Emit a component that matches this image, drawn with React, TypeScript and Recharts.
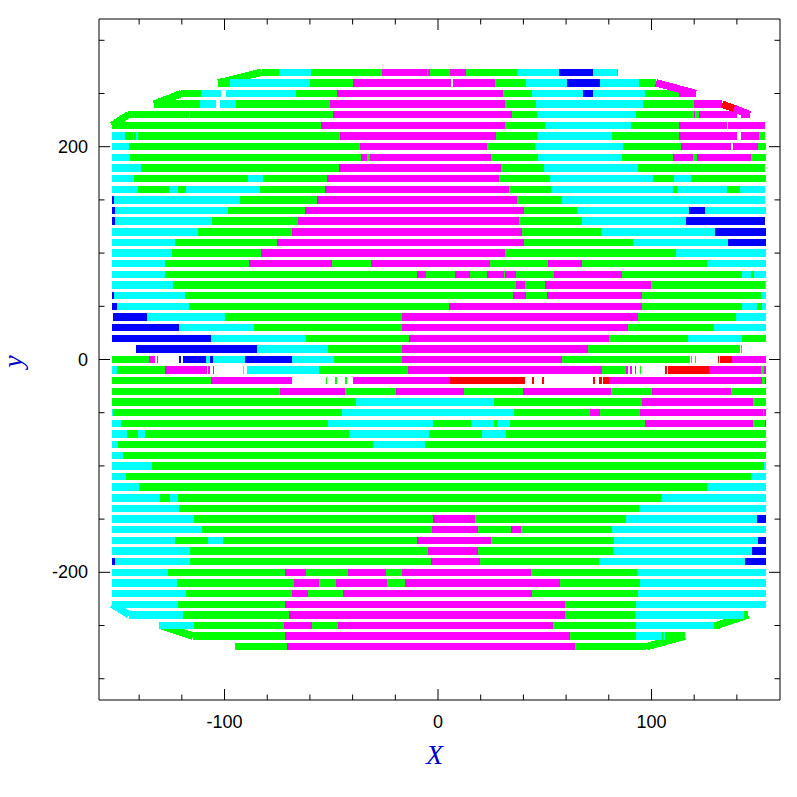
import React from "react";
import { LineChart, Line, XAxis, YAxis } from "recharts";

const colors: Record<string, string> = {
  g: "#00ff00",
  c: "#00ffff",
  m: "#ff00ff",
  b: "#0000ff",
  r: "#ff0000",
};

// y of each strip, x where it starts, then colour + x where that colour stops (w = gap)
const rowY = [
  270, 260, 250, 240, 230, 220, 210, 200, 190, 180, 170, 160, 150, 140, 130, 120, 110, 100, 90, 80, 70, 60, 50, 40, 30,
  20, 10, 0, -10, -20, -30, -40, -50, -60, -70, -80, -90, -100, -110, -120, -130, -140, -150, -160, -170, -180, -190,
  -200, -210, -220, -230, -240, -250, -260, -270,
];
const rowStart = [
  -82.6, -102.9, -120.2, -133, -145, -152.7, -152.7, -152.7, -152.7, -152.7, -152.7, -152.7, -152.7, -152.7, -152.7,
  -152.7, -152.7, -152.7, -152.7, -152.7, -152.7, -152.7, -152.7, -152.2, -152.7, -152.7, -141.4, -152.7, -152.7,
  -152.7, -152.7, -152.7, -152.7, -152.7, -152.7, -152.7, -152.7, -152.7, -152.7, -152.7, -152.7, -152.7, -152.7,
  -152.7, -152.7, -152.7, -152.7, -152.7, -152.7, -152.7, -152.7, -144.7, -130.7, -114.7, -95.1,
];
const rowBands = [
  "g -74.3 c -59.5 g -26.1 m -5 g -4.5 m -3.7 g 5.6 m 13.1 g 37 c 56.7 b 72.6 c 83.8 g 84.3",
  "g -97.4 c -59.9 g -39.6 m 6.1 w 7 m 26.7 g 41.2 c 60.4 b 75.9 c 94.1 g 102.1",
  "g -111 c -101.6 w -99.3 c -66.5 g -47.3 m 30.4 g 44 c 67.9 b 72.6 c 97 g 112.9 m 120.8",
  "g -111.5 c -104 w -102.1 c -94.6 g -50.6 m 31.4 g 45.9 c 96 g 119.9 m 133",
  "g -116.6 c -116.2 g -49 m 34.7 g 46.4 c 92.7 g 119.9 m 120.5 g 122.2 m 140 w 141.9 m 146.1",
  "g -54.8 m 31.4 g 50.1 c 90.4 g 112.9 m 135.4 w 135.9 m 153.2",
  "c -146.6 g -142.7 c -142.2 g -141.7 c -140.5 g -45.9 m 27.2 g 46.4 c 81.5 g 112.9 m 140.1 w 141.9 m 150.4 g 153.2",
  "c -144.7 g -36.5 m 22.9 g 45.4 c 86.7 g 113.8 m 137.2 w 138.2 m 149.9 g 153.6",
  "c -144.2 g -36 m -33.1 g -31.8 m 24.8 g 46.8 c 86.2 g 110.1 m 119.4 g 121.3 m 146.6 g 153.6",
  "c -139.1 g -46.3 m 29.5 g 49.6 c 93.7 g 153.2",
  "c -142.4 g -89 c -81.9 g -52 m 28.6 g 52.5 c 100.7 g 110.5 c 118.5 g 153.6",
  "c -140.5 g -126 c -121.8 g -118 c -83.4 g -52.9 m 33.3 g 52.9 c 110.1 g 112 c 135.4 g 141.5 c 153.2",
  "b -151.7 c -92.7 g -56.7 m 37 g 58.1 c 153.2",
  "b -151.3 c -98.3 g -62.3 m 40.3 g 65.1 c 117.6 b 125.1 c 153.6",
  "b -151.3 c -105.8 g -65.6 m 37.9 g 67.4 c 116.2 b 153.2",
  "c -112.4 g -68.4 m 39.3 g 76.3 c 129.7 b 153.6",
  "c -123.2 g -75.4 m 40.3 g 91.3 c 135.8 b 153.6",
  "c -124.6 g -82.7 m 31.4 g 111.5 c 153.6",
  "c -127.9 g -88.5 m -49.8 g -31.4 m 24.4 g 51.5 m 67.4 g 126 c 153.6",
  "c -127.9 g -9.8 m -5.8 g 8 m 15 g 22.9 m 31 g 31.4 m 36.5 g 54.3 m 86.2 g 142.4 c 146.6 g 148 c 153.6",
  "c -124.1 g 36.5 m 40.7 g 50.1 m 99.8 g 153.3 c 153.6",
  "b -151.7 c -118.5 g 35.1 m 41.2 g 51.1 m 95.5 g 151.3 c 153.6",
  "b -150.3 c -116.6 g 5.2 m 95.5 g 142.4 c 149.4 g 151.8 c 153.6",
  "b -136.3 c -99.8 g -16.8 m 93.7 g 139.6 c 153.6",
  "b -121.3 c -86.2 g -16.8 m 89 g 129.3 c 153.6",
  "b -106.3 c -61.8 g -13.6 m 80.1 g 117.1 c 142.4 g 153.6",
  "b -84.8 c -51.5 g -16.8 m 70.3 g 141.5 w 142 g 142.4",
  "g -135.3 m -132.5 w -131.6 m -131.1 w -121.3 b -120.4 w -119.4 b -108.6 c -106.8 b -105.4 c -90.4 b -68.4 c -48.7 g -16.8 m 58.1 g 118 w 118.5 g 118.9 w 120.4 g 120.8 w 131.1 r 131.6 w 132.1 r 137.7 m 153.6",
  "c -150.3 g -127.9 m -108.2 w -107.7 m -106.8 w -105.4 m -104.9 w -91.3 c -90.9 w -89.4 c -55.7 g -14 m 76.8 g 88.1 m 89 w 89.9 m 90.9 w 92.3 m 92.7 w 94.6 g 95.1 w 106.3 r 107.3 w 107.7 r 126.9 m 151.3 g 152.7 m 153.6",
  "g -106.3 m -68.4 w -52.4 g -52 w -48.2 g -47.3 w -43.5 g -42.6 w -39.8 m 5.6 r 40.7 w 44 r 45 w 48.7 r 49.6 w 72.6 r 73.5 w 75.4 r 76.8 w 77.3 r 80.1 m 151.8 g 153.2 m 153.6",
  "g -74 m -43.5 g -19.7 m 12.2 g 39.8 m 81 g 100.2 m 137.2 g 153.6",
  "g -38.4 c 26.2 g 95.5 m 147.5 g 153.6",
  "c -152.2 g -44.9 c 35.6 g 71.2 m 75.9 g 94.6 m 152.2 g 152.7 m 153.6",
  "c -148.5 g -51.5 c -2.3 g 15.5 c 26.2 g 27.6 c 33.7 g 97 m 147.5 g 153.2 m 153.6",
  "c -145.6 g -140.5 c -137.2 g -41.7 c -4.2 g 20.6 c 31.9 g 153.6",
  "c -149.9 g -30.4 c -6.1 g 153.6",
  "c -147.5 g 153.6",
  "c -133.9 g 152.7 c 153.6",
  "c -146.1 g 146.6 c 153.6",
  "c -140 g 126 c 153.6",
  "c -130.2 g -125.5 c -121.8 g 104.4 c 153.6",
  "c -121.3 g 94.1 c 153.6",
  "c -114.3 g -2.3 m 17.3 g 88.1 c 149.4 b 153.6",
  "c -110.5 g -2.8 m 18.7 g 34.2 m 38.9 g 81.5 c 153.6",
  "c -123.2 g -107.7 c -100.7 g -9.8 m 24.8 g 82.4 c 149.9 b 153.6",
  "c -116.1 g -4.7 m 18.7 g 82.1 c 147.1 b 153.6",
  "b -151.3 c -116.1 g -3.3 m 19.7 g 75.4 c 143.8 b 153.6",
  "c -126.4 g -71.6 m -61.8 g -42.1 m -24.3 g -16.8 m 43.6 g 93.2 c 153.6",
  "c -122.2 g -67.4 m -55.7 g -47.8 m -23.9 g -15.4 m 57.1 g 94.6 c 153.6",
  "c -118 g -68.4 m -60.9 g -44.5 m 44 g 93.7 c 153.6",
  "c -121.8 g -71.6 m 59.5 g 92.7 c 153.6",
  "c -119.4 g -69.8 m 59.5 g 92.3 c 143.3 g 145.2",
  "c -114.3 g -72.1 m -59 g -46.8 m 53.9 g 92.7 c 129.3 g 132.1",
  "g -71.6 m 61.8 g 92.7 c 104.9 g 105.4 c 106.3 g 115.7",
  "g -70.7 m 64.2 g 97.4",
];

// the sloped rims that join one strip to the next: colour, x1, y1, x2, y2
const rims: [string, number, number, number, number][] = [
  ["g", -82.6, 270, -102.9, 260],
  ["g", -120.2, 250, -133, 240],
  ["g", -145, 230, -152.7, 220],
  ["m", 102.1, 260, 120.8, 250],
  ["r", 133, 240, 138.6, 236],
  ["m", 138.6, 236, 146.1, 230],
  ["c", -152.7, -230, -144.7, -240],
  ["g", 145.2, -240, 130.5, -250],
  ["g", -130, -250, -114.7, -260],
  ["g", 115.7, -260, 97.4, -270],
];

const xTicks = [-140, -120, -100, -80, -60, -40, -20, 0, 20, 40, 60, 80, 100, 120, 140];
const yTicks = [-300, -250, -200, -150, -100, -50, 0, 50, 100, 150, 200, 250, 300];

type Pt = { x: number; y: number | null };

const series: Record<string, Pt[]> = { g: [], c: [], m: [], b: [], r: [] };
const addSeg = (k: string, x1: number, y1: number, x2: number, y2: number) => {
  series[k].push({ x: x1, y: y1 }, { x: x2, y: y2 }, { x: x2, y: null });
};
rowBands.forEach((band, i) => {
  const parts = band.split(" ");
  let from = rowStart[i];
  for (let j = 0; j < parts.length; j += 2) {
    const to = Number(parts[j + 1]);
    if (parts[j] !== "w") addSeg(parts[j], from, rowY[i], to, rowY[i]);
    from = to;
  }
});
rims.forEach(([k, x1, y1, x2, y2]) => addSeg(k, x1, y1, x2, y2));

const labelFont = "'Liberation Sans', Arial, sans-serif";

function XTick({ x, y, payload, dir, showText }: any) {
  const len = payload.value % 100 === 0 ? 11 : 5.5;
  return (
    <g>
      <line x1={x} x2={x} y1={y} y2={y + dir * len} stroke="#000" />
      {showText && payload.value % 100 === 0 ? (
        <text x={x} y={y + 28} textAnchor="middle" fontSize={18} fontFamily={labelFont} fill="#000">
          {payload.value}
        </text>
      ) : null}
    </g>
  );
}

function YTick({ x, y, payload, dir, showText }: any) {
  const len = payload.value % 200 === 0 ? 11 : 5.5;
  return (
    <g>
      <line x1={x} x2={x + dir * len} y1={y} y2={y} stroke="#000" />
      {showText && payload.value % 200 === 0 ? (
        <text x={x - 11} y={y + 6} textAnchor="end" fontSize={18} fontFamily={labelFont} fill="#000">
          {payload.value}
        </text>
      ) : null}
    </g>
  );
}

const axisLabel = {
  fill: "#0000cc",
  fontSize: 28,
  fontStyle: "italic",
  fontFamily: "'Liberation Serif', serif",
};

export default function App() {
  const xDomain: [number, number] = [-158.8, 160.2];
  const yDomain: [number, number] = [-320, 320];
  return (
    <div style={{ margin: "-8px 0 0 -8px", width: 788, height: 788 }}>
      <LineChart
        width={788}
        height={788}
        margin={{ top: 18, right: 7, bottom: 28, left: 39 }}
        style={{ background: "#fff" }}
      >
        <XAxis
          xAxisId={0}
          dataKey="x"
          type="number"
          orientation="bottom"
          domain={xDomain}
          ticks={xTicks}
          allowDataOverflow
          height={60}
          interval={0}
          tickLine={false}
          tickSize={0}
          tickMargin={0}
          axisLine={{ stroke: "#000" }}
          tick={(p: any) => <XTick {...p} dir={-1} showText />}
          label={{ value: "X", position: "bottom", offset: -16, dx: -5, style: axisLabel }}
        />
        <XAxis
          xAxisId="top"
          dataKey="x"
          type="number"
          orientation="top"
          domain={xDomain}
          ticks={xTicks}
          allowDataOverflow
          height={1}
          interval={0}
          tickLine={false}
          tickSize={0}
          tickMargin={0}
          axisLine={{ stroke: "#000" }}
          tick={(p: any) => <XTick {...p} dir={1} />}
        />
        <YAxis
          yAxisId={0}
          type="number"
          orientation="left"
          domain={yDomain}
          ticks={yTicks}
          allowDataOverflow
          width={60}
          interval={0}
          tickLine={false}
          tickSize={0}
          tickMargin={0}
          axisLine={{ stroke: "#000" }}
          tick={(p: any) => <YTick {...p} dir={1} showText />}
          label={{
            value: "y",
            angle: -90,
            position: "left",
            offset: 27,
            dy: 2,
            textAnchor: "middle",
            style: axisLabel,
          }}
        />
        <YAxis
          yAxisId="right"
          type="number"
          orientation="right"
          domain={yDomain}
          ticks={yTicks}
          allowDataOverflow
          width={1}
          interval={0}
          tickLine={false}
          tickSize={0}
          tickMargin={0}
          axisLine={{ stroke: "#000" }}
          tick={(p: any) => <YTick {...p} dir={-1} />}
        />
        {Object.keys(series).map((k) => (
          <Line
            key={k}
            xAxisId={0}
            yAxisId={0}
            data={series[k]}
            dataKey="y"
            stroke={colors[k]}
            strokeWidth={7.4}
            dot={false}
            activeDot={false}
            connectNulls={false}
            type="linear"
            shapeRendering="crispEdges"
            isAnimationActive={false}
          />
        ))}
      </LineChart>
    </div>
  );
}
